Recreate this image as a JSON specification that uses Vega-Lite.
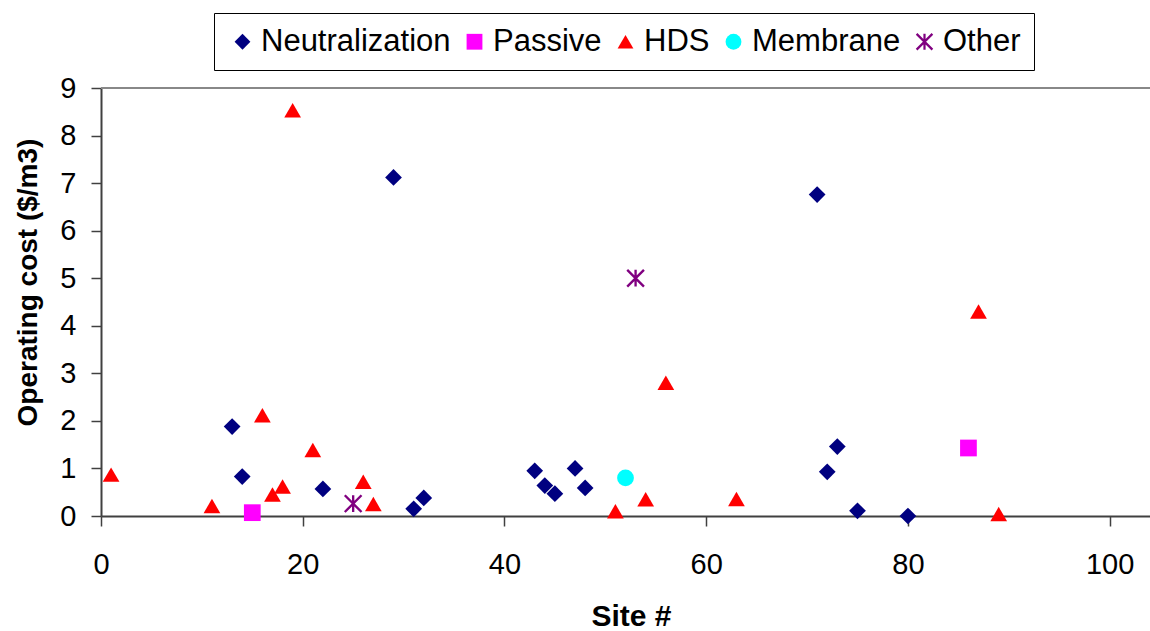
{
  "$schema": "https://vega.github.io/schema/vega-lite/v6.json",
  "width": 1049,
  "height": 428,
  "autosize": {"type": "none"},
  "padding": {"left": 101, "top": 88, "right": 0, "bottom": 115},
  "background": "white",
  "config": {
    "font": "Liberation Sans",
    "view": {"stroke": null}
  },
  "layer": [
    {
      "data": {"values": [{"edge": "top"}]},
      "mark": {"type": "rule", "color": "#888888", "strokeWidth": 2},
      "encoding": {"y": {"datum": 9, "type": "quantitative"}}
    },
    {
      "data": {
        "values": [
          {"site": 13, "cost": 1.88, "type": "Neutralization"},
          {"site": 14, "cost": 0.83, "type": "Neutralization"},
          {"site": 22, "cost": 0.57, "type": "Neutralization"},
          {"site": 29, "cost": 7.12, "type": "Neutralization"},
          {"site": 31, "cost": 0.15, "type": "Neutralization"},
          {"site": 32, "cost": 0.38, "type": "Neutralization"},
          {"site": 43, "cost": 0.95, "type": "Neutralization"},
          {"site": 44, "cost": 0.64, "type": "Neutralization"},
          {"site": 45, "cost": 0.47, "type": "Neutralization"},
          {"site": 47, "cost": 1.0, "type": "Neutralization"},
          {"site": 48, "cost": 0.59, "type": "Neutralization"},
          {"site": 71, "cost": 6.76, "type": "Neutralization"},
          {"site": 72, "cost": 0.93, "type": "Neutralization"},
          {"site": 73, "cost": 1.46, "type": "Neutralization"},
          {"site": 75, "cost": 0.11, "type": "Neutralization"},
          {"site": 80, "cost": 0.0, "type": "Neutralization"},
          {"site": 15, "cost": 0.07, "type": "Passive"},
          {"site": 86, "cost": 1.43, "type": "Passive"},
          {"site": 1, "cost": 0.87, "type": "HDS"},
          {"site": 11, "cost": 0.21, "type": "HDS"},
          {"site": 16, "cost": 2.12, "type": "HDS"},
          {"site": 17, "cost": 0.45, "type": "HDS"},
          {"site": 18, "cost": 0.62, "type": "HDS"},
          {"site": 19, "cost": 8.53, "type": "HDS"},
          {"site": 21, "cost": 1.39, "type": "HDS"},
          {"site": 26, "cost": 0.72, "type": "HDS"},
          {"site": 27, "cost": 0.25, "type": "HDS"},
          {"site": 51, "cost": 0.1, "type": "HDS"},
          {"site": 54, "cost": 0.35, "type": "HDS"},
          {"site": 56, "cost": 2.8, "type": "HDS"},
          {"site": 63, "cost": 0.36, "type": "HDS"},
          {"site": 87, "cost": 4.3, "type": "HDS"},
          {"site": 89, "cost": 0.04, "type": "HDS"},
          {"site": 52, "cost": 0.8, "type": "Membrane"},
          {"site": 25, "cost": 0.26, "type": "Other"},
          {"site": 53, "cost": 5.0, "type": "Other"}
        ]
      },
      "mark": {"type": "point", "filled": true, "opacity": 1, "size": 280, "strokeWidth": 0},
      "encoding": {
        "x": {
          "field": "site",
          "type": "quantitative",
          "scale": {"domain": [0, 104], "nice": false, "zero": false},
          "axis": {
            "values": [0, 20, 40, 60, 80, 100],
            "grid": false,
            "domainColor": "#404040",
            "domainWidth": 2,
            "tickColor": "#404040",
            "tickWidth": 1.5,
            "tickSize": 10,
            "labelFontSize": 29,
            "labelColor": "black",
            "labelBaseline": "alphabetic",
            "labelPadding": 47,
            "labelFlush": false,
            "labelOverlap": false,
            "title": "Site #",
            "titleFontSize": 30,
            "titleFontWeight": "bold",
            "titleColor": "black",
            "titleX": 530,
            "titleY": 109,
            "titleAlign": "center",
            "titleBaseline": "alphabetic"
          }
        },
        "y": {
          "field": "cost",
          "type": "quantitative",
          "scale": {"domain": [0, 9], "nice": false},
          "axis": {
            "values": [0, 1, 2, 3, 4, 5, 6, 7, 8, 9],
            "grid": false,
            "domainColor": "#404040",
            "domainWidth": 2,
            "tickColor": "#404040",
            "tickWidth": 1.5,
            "tickSize": 10,
            "labelFontSize": 29,
            "labelColor": "black",
            "labelPadding": 15,
            "labelOverlap": false,
            "labelFlush": false,
            "title": "Operating cost ($/m3)",
            "titleFontSize": 28,
            "titleFontWeight": "bold",
            "titleColor": "black",
            "titleAngle": 270,
            "titleX": -65,
            "titleY": 194,
            "titleAlign": "center",
            "titleBaseline": "alphabetic"
          }
        },
        "color": {
          "field": "type",
          "type": "nominal",
          "scale": {
            "domain": ["Neutralization", "Passive", "HDS", "Membrane", "Other"],
            "range": ["#000080", "#FF00FF", "#FF0000", "#00FFFF", "#800080"]
          },
          "legend": {
            "orient": "none",
            "legendX": 113,
            "legendY": -75,
            "direction": "horizontal",
            "title": null,
            "strokeColor": "black",
            "fillColor": "white",
            "padding": 13,
            "labelFontSize": 31,
            "labelColor": "black",
            "labelLimit": 500,
            "labelOffset": 3,
            "columnPadding": 8,
            "symbolSize": 250,
            "symbolStrokeWidth": 0,
            "symbolOpacity": 1
          }
        },
        "shape": {
          "field": "type",
          "type": "nominal",
          "scale": {
            "domain": ["Neutralization", "Passive", "HDS", "Membrane", "Other"],
            "range": [
              "diamond",
              "square",
              "triangle-up",
              "circle",
              "M-0.14,-1L0.14,-1L0.14,1L-0.14,1ZM-0.9,-1.1L1.1,0.9L0.9,1.1L-1.1,-0.9ZM1.1,-0.9L-0.9,1.1L-1.1,0.9L0.9,-1.1Z"
            ]
          }
        }
      }
    }
  ]
}
